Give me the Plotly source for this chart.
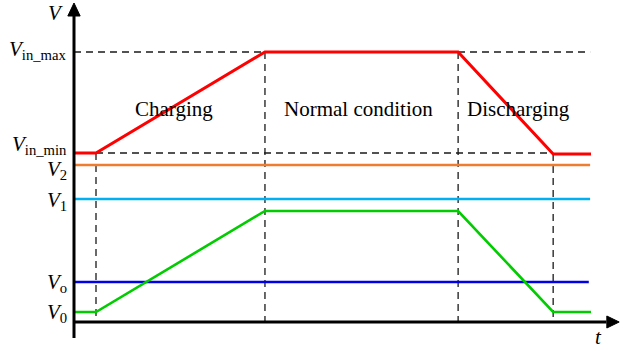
import plotly.graph_objects as go

# Time breakpoints of the operating sequence (arbitrary units)
t_points = [0.0, 0.5, 4.34, 8.73, 10.89, 11.75]

# Input voltage: V_in_min -> ramp up -> V_in_max -> ramp down -> V_in_min
v_in = [16.9, 16.9, 27.0, 27.0, 16.8, 16.8]
# Capacitor / storage voltage following the same phases
v_store = [1.0, 1.0, 11.1, 11.1, 1.0, 1.0]

# Constant reference levels
V_IN_MAX = 27.0
V_IN_MIN = 16.9
V2 = 15.7
V1 = 12.3
V_O = 4.0
V_0 = 1.0
T_END = 11.73

phase_names = ["Charging", "Normal condition", "Discharging"]
phase_centers = [2.27, 6.47, 10.11]

level_labels = [
    ("<i>V</i><sub>in_max</sub>", 27.2),
    ("<i>V</i><sub>in_min</sub>", 17.7),
    ("<i>V</i><sub>2</sub>", 15.2),
    ("<i>V</i><sub>1</sub>", 12.1),
    ("<i>V</i><sub>o</sub>", 3.9),
    ("<i>V</i><sub>0</sub>", 0.9),
]

FONT = "Liberation Serif"
dash_style = dict(color="#1a1a1a", width=1.3, dash="7px,5px")

fig = go.Figure()

# Dashed guide lines
guides = [
    ([0, T_END], [V_IN_MAX, V_IN_MAX]),
    ([t_points[1], t_points[4]], [V_IN_MIN, V_IN_MIN]),
    ([t_points[1], t_points[1]], [V_IN_MIN, 0]),
    ([t_points[2], t_points[2]], [V_IN_MAX, 0]),
    ([t_points[3], t_points[3]], [V_IN_MAX, 0]),
    ([t_points[4], t_points[4]], [v_in[4], 0]),
]
for gx, gy in guides:
    fig.add_trace(go.Scatter(x=gx, y=gy, mode="lines", line=dash_style,
                             hoverinfo="skip", showlegend=False))

# Constant levels
levels = [(V2, "#ED7D31", T_END), (V1, "#00B0F0", T_END), (V_O, "#0000E6", 11.7)]
for val, col, tend in levels:
    fig.add_trace(go.Scatter(x=[0, tend], y=[val, val], mode="lines",
                             line=dict(color=col, width=2.6), showlegend=False))

# Input voltage and storage voltage profiles
fig.add_trace(go.Scatter(x=t_points, y=v_in, mode="lines",
                         line=dict(color="#FF0000", width=3), showlegend=False))
fig.add_trace(go.Scatter(x=t_points, y=v_store, mode="lines",
                         line=dict(color="#00CC00", width=2.6), showlegend=False))

# Axes with arrowheads
shapes = [
    dict(type="line", x0=0, x1=0, y0=-1.6, y1=30.9, xref="x", yref="y",
         line=dict(color="black", width=3)),
    dict(type="line", x0=0, x1=12.1, y0=0, y1=0, xref="x", yref="y",
         line=dict(color="black", width=3)),
    dict(type="path", path="M -0.14,30.6 L 0,31.9 L 0.14,30.6 Z",
         xref="x", yref="y", fillcolor="black", line=dict(color="black", width=1)),
    dict(type="path", path="M 12.11,0.6 L 12.39,0 L 12.11,-0.6 Z",
         xref="x", yref="y", fillcolor="black", line=dict(color="black", width=1)),
]

annotations = []
for name, xc in zip(phase_names, phase_centers):
    annotations.append(dict(x=xc, y=21.3, text=name, showarrow=False,
                            font=dict(family=FONT, size=21, color="black"),
                            xanchor="center", yanchor="middle"))
for txt, yv in level_labels:
    annotations.append(dict(x=-0.12, y=yv, text=txt, showarrow=False,
                            font=dict(family=FONT, size=21, color="black"),
                            xanchor="right", yanchor="middle"))
annotations.append(dict(x=-0.41, y=30.9, text="<i>V</i>", showarrow=False,
                        font=dict(family=FONT, size=21, color="black"),
                        xanchor="center", yanchor="middle"))
annotations.append(dict(x=11.93, y=-1.5, text="<i>t</i>", showarrow=False,
                        font=dict(family=FONT, size=21, color="black"),
                        xanchor="center", yanchor="middle"))

fig.update_layout(
    width=633, height=351,
    margin=dict(l=0, r=0, t=0, b=0),
    paper_bgcolor="white", plot_bgcolor="white",
    xaxis=dict(range=[-74 / 44, 559 / 44], visible=False, fixedrange=True),
    yaxis=dict(range=[-2.9, 32.2], visible=False, fixedrange=True),
    shapes=shapes, annotations=annotations, showlegend=False,
)

fig.write_html("out.html")
